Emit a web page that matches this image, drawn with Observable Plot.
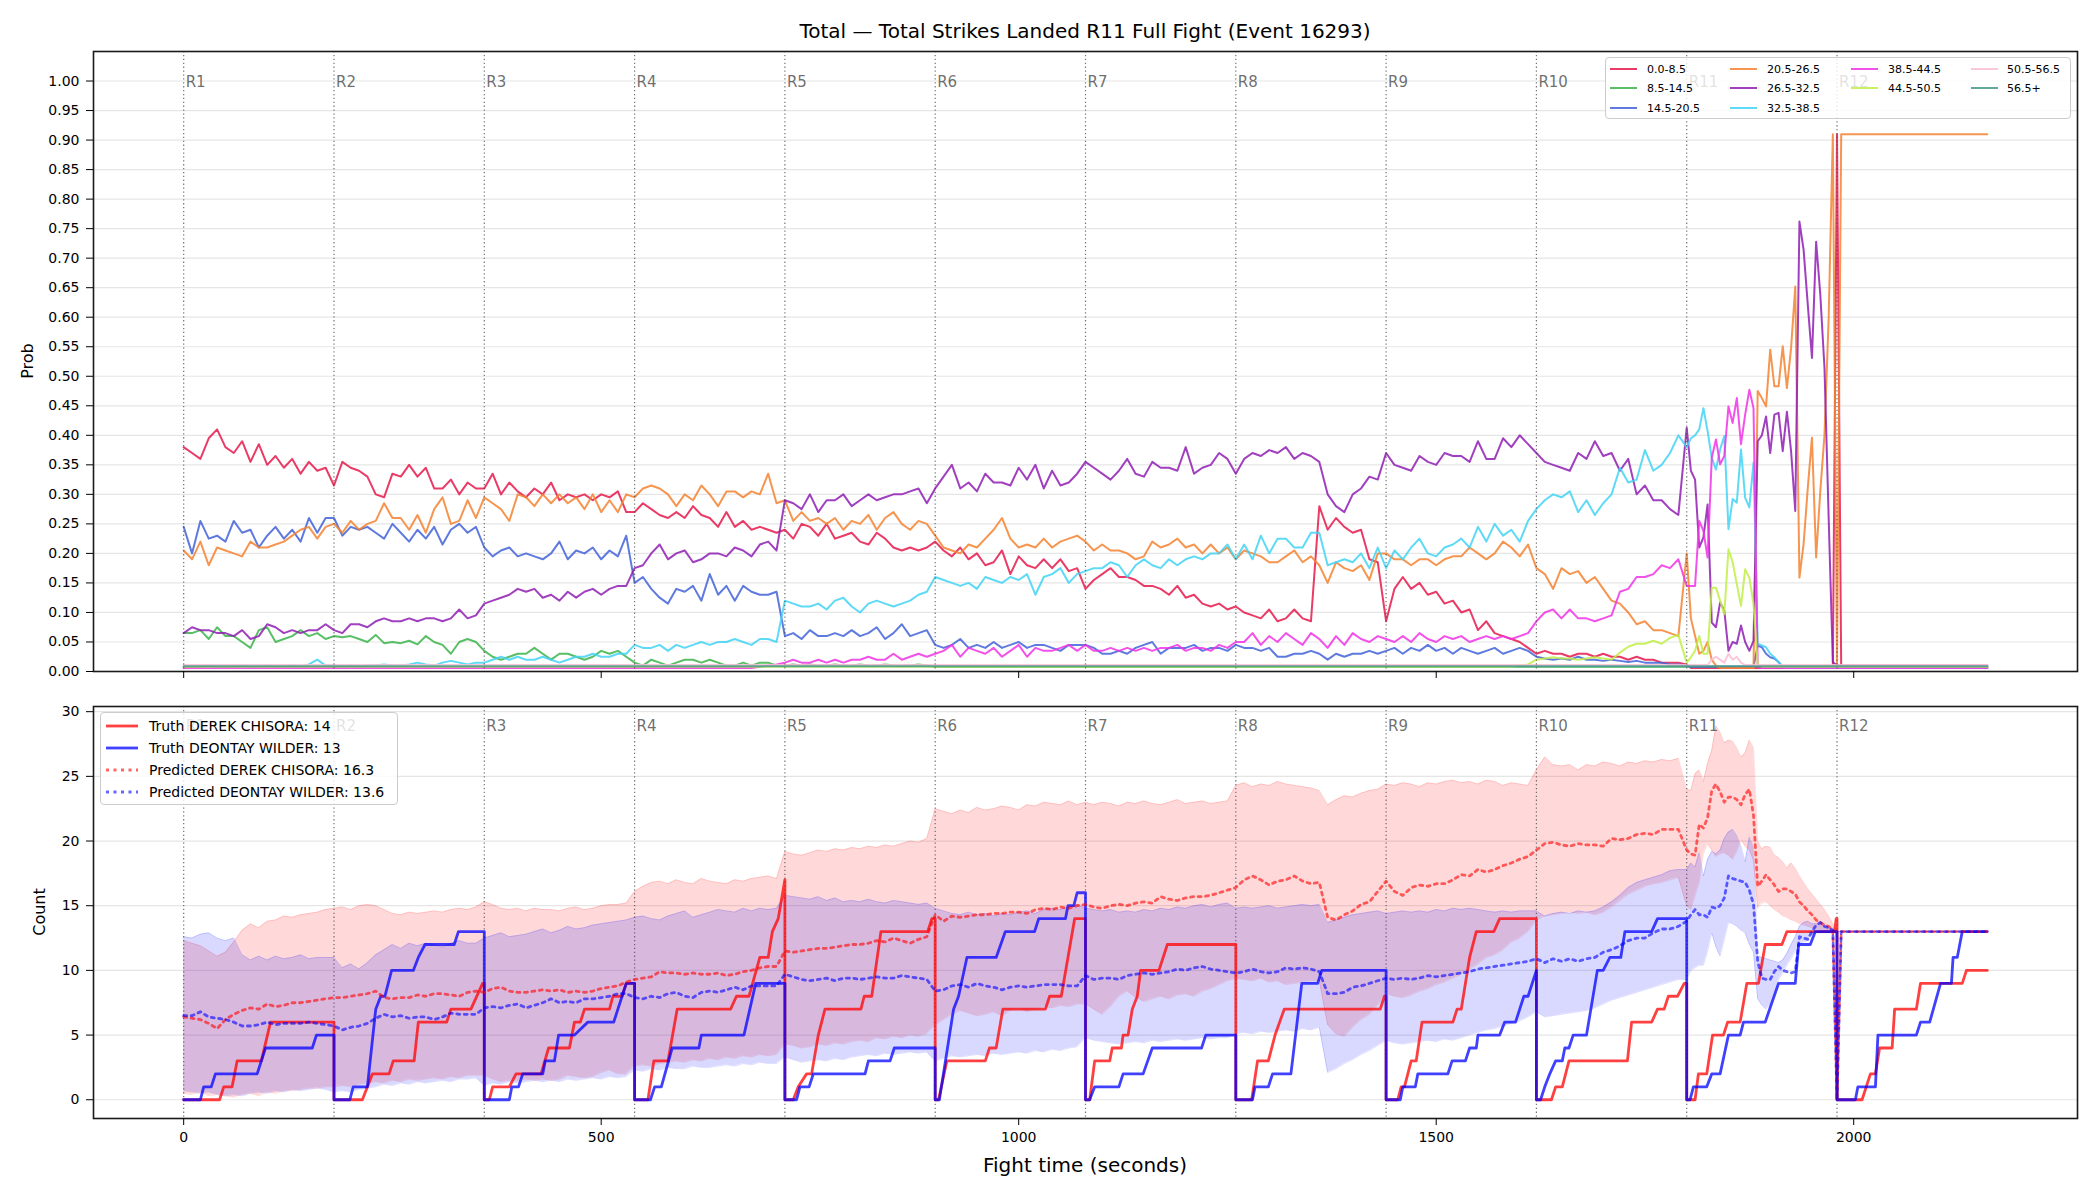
<!DOCTYPE html>
<html><head><meta charset="utf-8">
<script src="https://cdn.jsdelivr.net/npm/d3@7"></script>
<script src="https://cdn.jsdelivr.net/npm/@observablehq/plot@0.6"></script>
<style>
body{margin:0;background:#fff;font-family:"DejaVu Sans",sans-serif;}
#root{position:relative;width:2100px;height:1200px;overflow:hidden;background:#fff;}
#root svg.plotsvg{position:absolute;left:0;}
.lbl{position:absolute;white-space:nowrap;color:#000;font-family:"DejaVu Sans",sans-serif;}
.legend{position:absolute;background:rgba(255,255,255,0.8);border:1px solid #cccccc;border-radius:4px;box-sizing:border-box;}
.legend .txt{position:absolute;white-space:nowrap;transform:translateY(-50%);color:#000;line-height:1;}
.legend svg{position:absolute;overflow:visible;}
</style>
</head><body><div id="root"></div>
<script>
// ---------------- DATA ----------------
const title = "Total \u2014 Total Strikes Landed R11 Full Fight (Event 16293)";
const roundStarts = [0,180,360,540,720,900,1080,1260,1440,1620,1800,1980];
const roundLabels = ["R1","R2","R3","R4","R5","R6","R7","R8","R9","R10","R11","R12"];
const timeTicks = [0,500,1000,1500,2000];
const probTicks = [0,0.05,0.10,0.15,0.20,0.25,0.30,0.35,0.40,0.45,0.50,0.55,0.60,0.65,0.70,0.75,0.80,0.85,0.90,0.95,1.00];
const countTicks = [0,5,10,15,20,25,30];
const binLabels = ["0.0-8.5","8.5-14.5","14.5-20.5","20.5-26.5","26.5-32.5","32.5-38.5","38.5-44.5","44.5-50.5","50.5-56.5","56.5+"];
const binColors = ["#e6194b","#3cb44b","#4363d8","#f58231","#911eb4","#42d4f4","#f032e6","#bfef45","#fabed4","#469990"];
const fighters = ["DEREK CHISORA","DEONTAY WILDER"];
const truthFinal = [14, 13];
const predFinal = [16.3, 13.6];

// sample times: 10 s in rounds 1-10, 5 s in round 11 (and start of 12), 10 s after
const times = [];
for (let t = 0; t < 1800; t += 10) times.push(t);
for (let t = 1800; t <= 1990; t += 5) times.push(t);
for (let t = 2000; t <= 2160; t += 10) times.push(t);

// probabilities per bin (R1..R10: 18 values each, R11: 36, R12: 20)
const bin0 = [
.38,.37,.36,.395,.41,.38,.37,.39,.355,.385,.35,.365,.345,.36,.335,.355,.34,.345,
.315,.355,.345,.34,.33,.30,.295,.335,.33,.35,.33,.345,.31,.31,.325,.30,.32,.31,
.31,.335,.30,.32,.305,.295,.31,.30,.32,.29,.30,.295,.30,.29,.30,.295,.305,.27,
.27,.285,.275,.265,.26,.27,.26,.28,.265,.26,.245,.27,.245,.255,.24,.245,.24,.235,
.24,.225,.25,.245,.23,.25,.225,.23,.235,.22,.215,.235,.225,.21,.205,.21,.205,.21,
.22,.205,.195,.21,.19,.2,.18,.185,.205,.165,.195,.18,.175,.19,.175,.19,.17,.175,
.14,.155,.165,.175,.16,.16,.155,.145,.145,.14,.13,.145,.125,.13,.115,.11,.115,.105,
.11,.10,.095,.09,.105,.085,.09,.105,.09,.085,.28,.24,.26,.245,.235,.24,.19,.185,
.085,.14,.16,.14,.15,.13,.135,.115,.12,.10,.105,.07,.085,.065,.06,.055,.05,.04,
.03,.035,.03,.03,.025,.03,.03,.025,.03,.025,.025,.02,.025,.02,.02,.015,.015,.015,
.012,.006,.006,.006,.006,.006,  .006,.006,.006,.006,.006,.006,  .006,.006,.006,.006,.006,.006,
.006,.006,.006,.006,.006,.006,  .006,.006,.006,.006,.006,.006,  .006,.006,.006,.006,.006,.006,
.91,.006,.006,.006,.006,.006,  .006,.006,.006,.006,.006,.006,  .006,.006,.006,.006,.006,.006,  .006,.006
];
const bin1 = [
.065,.065,.07,.055,.075,.06,.06,.05,.04,.07,.075,.05,.055,.06,.07,.06,.065,.055,
.06,.058,.06,.055,.05,.062,.048,.05,.048,.052,.046,.06,.05,.045,.03,.05,.055,.05,
.035,.025,.02,.025,.03,.03,.04,.03,.02,.03,.03,.025,.02,.025,.035,.03,.035,.025,
.015,.01,.02,.015,.01,.015,.02,.02,.015,.02,.015,.01,.01,.015,.01,.015,.015,.01,
.01,.012,.01,.012,.01,.01,.012,.01,.01,.012,.01,.01,.012,.01,.01,.01,.012,.01,
.008,.008,.008,.008,.008,.008,  .008,.008,.008,.008,.008,.008,  .008,.008,.008,.008,.008,.008,
.008,.008,.008,.008,.008,.008,  .008,.008,.008,.008,.008,.008,  .008,.008,.008,.008,.008,.008,
.008,.008,.008,.008,.008,.008,  .008,.008,.008,.008,.008,.008,  .008,.008,.008,.008,.008,.008,
.008,.008,.008,.008,.008,.008,  .008,.008,.008,.008,.008,.008,  .008,.008,.008,.008,.008,.008,
.008,.008,.008,.008,.008,.008,  .008,.008,.008,.008,.008,.008,  .008,.008,.008,.008,.008,.008,
.008,.008,.008,.008,.008,.008,  .008,.008,.008,.008,.008,.008,  .008,.008,.008,.008,.008,.008,
.008,.008,.008,.008,.008,.008,  .008,.008,.008,.008,.008,.008,  .008,.008,.008,.008,.008,.008,
.008,.008,.008,.008,.008,.008,  .008,.008,.008,.008,.008,.008,  .008,.008,.008,.008,.008,.008,  .008,.008
];
const bin2 = [
.245,.2,.255,.225,.23,.22,.255,.235,.24,.21,.23,.245,.225,.24,.22,.26,.235,.26,
.26,.23,.245,.24,.245,.235,.225,.25,.235,.22,.24,.225,.245,.215,.24,.25,.235,.245,
.21,.195,.205,.21,.195,.2,.195,.19,.2,.22,.19,.205,.2,.21,.19,.205,.195,.23,
.15,.16,.14,.125,.115,.14,.135,.145,.12,.165,.13,.145,.12,.145,.135,.13,.13,.135,
.06,.065,.055,.07,.06,.06,.065,.06,.07,.06,.065,.075,.055,.065,.08,.06,.065,.07,
.045,.04,.045,.055,.04,.045,.04,.05,.04,.045,.05,.04,.045,.045,.04,.035,.045,.045,
.045,.04,.03,.03,.035,.03,.04,.045,.05,.03,.04,.04,.04,.045,.035,.04,.04,.035,
.045,.04,.04,.035,.04,.025,.025,.03,.03,.035,.03,.02,.03,.025,.03,.03,.035,.03,
.035,.04,.03,.04,.035,.045,.035,.04,.03,.04,.035,.03,.035,.04,.03,.035,.04,.035,
.025,.022,.02,.022,.02,.025,.02,.02,.018,.02,.018,.016,.018,.015,.015,.015,.012,.012,
.01,.008,.008,.008,.008,.008,  .008,.008,.008,.008,.008,.008,  .008,.008,.008,.008,.008,.044,
.041,.03,.024,.022,.016,.008,  .008,.008,.008,.008,.008,.008,  .008,.008,.008,.008,.008,.008,
.008,.008,.008,.008,.008,.008,  .008,.008,.008,.008,.008,.008,  .008,.008,.008,.008,.008,.008,  .008,.008
];
const bin3 = [
.205,.19,.22,.18,.21,.205,.2,.195,.22,.21,.21,.215,.22,.23,.24,.245,.225,.245,
.25,.235,.255,.24,.25,.255,.285,.26,.26,.24,.265,.235,.275,.295,.25,.255,.29,.26,
.295,.285,.275,.255,.3,.295,.28,.3,.285,.3,.285,.295,.275,.3,.27,.29,.27,.3,
.295,.31,.315,.31,.3,.28,.3,.29,.315,.3,.28,.305,.305,.295,.305,.3,.335,.285,
.29,.255,.27,.255,.26,.25,.26,.24,.255,.25,.265,.24,.26,.27,.25,.24,.255,.25,
.23,.21,.205,.2,.215,.21,.225,.24,.26,.225,.21,.215,.21,.225,.21,.22,.225,.23,
.22,.205,.215,.205,.205,.2,.19,.195,.22,.21,.215,.225,.21,.215,.2,.215,.2,.21,
.19,.205,.2,.195,.185,.185,.195,.205,.185,.195,.18,.15,.185,.175,.17,.18,.155,.2,
.2,.19,.19,.18,.19,.19,.18,.19,.195,.195,.21,.2,.19,.2,.22,.21,.195,.215,
.175,.165,.14,.175,.165,.17,.15,.16,.14,.12,.115,.1,.08,.085,.07,.07,.065,.06,
.20,.09,.06,.03,.035,.05,  .02,.01,.006,.006,.006,.006,  .006,.006,.006,.006,.006,.475,
.463,.449,.545,.483,.483,.551,  .48,.548,.652,.159,.216,.311,  .396,.193,.306,.401,.599,.91,
.01,.91,.91,.91,.91,.91,  .91,.91,.91,.91,.91,.91,  .91,.91,.91,.91,.91,.91,  .91,.91
];
const bin4 = [
.065,.075,.07,.07,.065,.065,.06,.07,.055,.06,.08,.075,.065,.07,.065,.07,.07,.08,
.07,.065,.08,.08,.075,.085,.09,.085,.085,.09,.085,.09,.09,.085,.09,.105,.09,.095,
.115,.12,.125,.13,.14,.135,.14,.125,.13,.12,.135,.125,.135,.14,.13,.14,.145,.145,
.175,.18,.2,.215,.19,.2,.205,.185,.19,.2,.2,.195,.21,.205,.195,.215,.22,.205,
.29,.285,.275,.3,.27,.29,.29,.3,.28,.29,.3,.29,.295,.3,.3,.305,.31,.285,
.31,.33,.35,.31,.32,.305,.335,.32,.32,.315,.345,.325,.35,.31,.34,.315,.32,.335,
.355,.345,.335,.325,.34,.36,.335,.33,.355,.345,.345,.34,.38,.335,.345,.35,.37,.36,
.335,.36,.37,.365,.375,.37,.38,.36,.37,.365,.355,.3,.28,.27,.3,.31,.33,.325,
.37,.35,.345,.34,.365,.355,.35,.37,.365,.365,.355,.39,.36,.36,.395,.38,.4,.385,
.37,.355,.35,.345,.34,.37,.36,.39,.365,.37,.34,.36,.3,.315,.29,.29,.275,.265,
.413,.34,.325,.21,.227,.283,  .083,.075,.117,.103,.035,.05,  .047,.078,.05,.035,.052,.39,
.40,.432,.37,.435,.438,.373,  .44,.373,.272,.762,.714,.621,  .531,.728,.638,.514,.26,.016,
.01,.01,.01,.01,.01,.01,  .01,.01,.01,.01,.01,.01,  .01,.01,.01,.01,.01,.01,  .01,.01
];
const bin5 = [
.008,.008,.008,.01,.008,.008,.008,.01,.008,.008,.01,.008,.008,.01,.008,.012,.02,.01,
.01,.008,.01,.008,.01,.01,.012,.01,.01,.012,.015,.012,.01,.015,.018,.015,.012,.015,
.015,.02,.025,.02,.025,.02,.02,.025,.02,.015,.02,.025,.025,.03,.025,.025,.03,.03,
.045,.04,.04,.045,.035,.045,.04,.045,.05,.045,.05,.05,.055,.05,.045,.055,.055,.05,
.12,.115,.11,.11,.115,.105,.12,.125,.11,.1,.115,.12,.115,.11,.115,.12,.13,.135,
.16,.155,.15,.145,.15,.14,.16,.155,.15,.16,.155,.165,.13,.16,.165,.175,.15,.165,
.17,.175,.175,.185,.18,.16,.18,.19,.18,.175,.19,.18,.19,.195,.19,.2,.2,.215,
.19,.215,.19,.23,.2,.225,.225,.21,.21,.235,.235,.18,.185,.19,.185,.2,.175,.21,
.175,.205,.19,.21,.225,.2,.195,.21,.215,.225,.21,.245,.22,.25,.23,.24,.22,.255,
.275,.29,.3,.295,.305,.27,.29,.265,.285,.3,.345,.32,.325,.375,.34,.35,.37,.4,
.38,.395,.40,.41,.446,.407,  .362,.342,.376,.399,.241,.292,  .286,.376,.294,.278,.354,.047,
.044,.041,.03,.024,.016,.008,  .006,.006,.006,.006,.006,.006,  .006,.006,.006,.006,.006,.006,
.006,.006,.006,.006,.006,.006,  .006,.006,.006,.006,.006,.006,  .006,.006,.006,.006,.006,.006,  .006,.006
];
const bin6 = [
.006,.006,.006,.006,.006,.006,  .006,.006,.006,.006,.006,.006,  .006,.006,.006,.006,.006,.006,
.006,.006,.006,.006,.006,.006,  .006,.006,.006,.006,.006,.006,  .006,.006,.006,.006,.006,.006,
.006,.006,.006,.006,.006,.006,  .006,.006,.006,.006,.006,.006,  .006,.006,.006,.006,.006,.006,
.006,.006,.006,.006,.006,.006,  .006,.006,.006,.006,.006,.006,  .006,.006,.006,.008,.01,.012,
.015,.02,.015,.015,.02,.015,.02,.015,.02,.02,.025,.02,.02,.03,.02,.025,.03,.025,
.03,.035,.045,.025,.04,.035,.03,.04,.025,.035,.045,.025,.04,.035,.035,.04,.045,.035,
.045,.035,.035,.04,.035,.04,.035,.04,.035,.04,.04,.045,.035,.04,.04,.035,.045,.04,
.05,.05,.065,.045,.06,.05,.065,.055,.045,.065,.055,.04,.06,.045,.065,.055,.05,.06,
.055,.05,.06,.05,.065,.055,.05,.06,.055,.06,.05,.055,.06,.055,.06,.055,.06,.065,
.085,.1,.105,.09,.105,.09,.09,.085,.09,.095,.135,.14,.16,.16,.165,.18,.175,.19,
.145,.145,.145,.255,.238,.193,  .362,.393,.351,.365,.449,.421,  .463,.385,.435,.477,.446,.008,
.006,.006,.006,.006,.006,.006,  .006,.006,.006,.006,.006,.006,  .006,.006,.006,.006,.006,.006,
.006,.006,.006,.006,.006,.006,  .006,.006,.006,.006,.006,.006,  .006,.006,.006,.006,.006,.006,  .006,.006
];
const bin7 = [
.008,.008,.008,.008,.008,.008,  .008,.008,.008,.008,.008,.008,  .008,.008,.008,.008,.008,.008,
.008,.008,.008,.008,.008,.008,  .008,.008,.008,.008,.008,.008,  .008,.008,.008,.008,.008,.008,
.008,.008,.008,.008,.008,.008,  .008,.008,.008,.008,.008,.008,  .008,.008,.008,.008,.008,.008,
.008,.008,.008,.008,.008,.008,  .008,.008,.008,.008,.008,.008,  .008,.008,.008,.008,.008,.008,
.008,.008,.008,.008,.008,.008,  .008,.008,.008,.008,.008,.008,  .008,.008,.008,.008,.008,.008,
.008,.008,.008,.008,.008,.008,  .008,.008,.008,.008,.008,.008,  .008,.008,.008,.008,.008,.008,
.008,.008,.008,.008,.008,.008,  .008,.008,.008,.008,.008,.008,  .008,.008,.008,.008,.008,.008,
.008,.008,.008,.008,.008,.008,  .008,.008,.008,.008,.008,.008,  .008,.008,.008,.008,.008,.008,
.008,.008,.008,.008,.008,.008,  .008,.008,.008,.008,.008,.008,  .008,.008,.008,.008,.01,.012,
.02,.022,.024,.022,.022,.02,.022,.024,.022,.02,.032,.042,.047,.047,.052,.047,.057,.062,
.015,.024,.035,.06,.03,.03,  .142,.142,.12,.097,.207,.185,  .148,.111,.173,.159,.114,.013,
.008,.008,.008,.008,.008,.008,  .008,.008,.008,.008,.008,.008,  .008,.008,.008,.008,.008,.008,
.008,.008,.008,.008,.008,.008,  .008,.008,.008,.008,.008,.008,  .008,.008,.008,.008,.008,.008,  .008,.008
];
const bin8 = [
.011,.011,.011,.011,.011,.011,  .011,.011,.011,.011,.011,.011,  .011,.011,.011,.011,.011,.011,
.011,.011,.011,.011,.011,.011,  .011,.011,.011,.011,.011,.011,  .011,.011,.011,.011,.011,.011,
.011,.011,.011,.011,.011,.011,  .011,.011,.011,.011,.011,.011,  .011,.011,.011,.011,.011,.011,
.011,.011,.011,.011,.011,.011,  .011,.011,.011,.011,.011,.011,  .011,.011,.011,.011,.011,.011,
.011,.011,.011,.011,.011,.011,  .011,.011,.011,.011,.011,.011,  .011,.011,.011,.011,.011,.011,
.011,.011,.011,.011,.011,.011,  .011,.011,.011,.011,.011,.011,  .011,.011,.011,.011,.011,.011,
.011,.011,.011,.011,.011,.011,  .011,.011,.011,.011,.011,.011,  .011,.011,.011,.011,.011,.011,
.011,.011,.011,.011,.011,.011,  .011,.011,.011,.011,.011,.011,  .011,.011,.011,.011,.011,.011,
.011,.011,.011,.011,.011,.011,  .011,.011,.011,.011,.011,.011,  .011,.011,.011,.011,.011,.011,
.011,.011,.011,.011,.011,.011,  .011,.011,.011,.011,.011,.011,  .011,.011,.011,.011,.011,.011,
.011,.011,.011,.011,.011,.011,  .02,.025,.02,.015,.03,.02,  .025,.015,.011,.011,.011,.011,
.011,.011,.011,.011,.011,.011,  .011,.011,.011,.011,.011,.011,  .011,.011,.011,.011,.011,.011,
.011,.011,.011,.011,.011,.011,  .011,.011,.011,.011,.011,.011,  .011,.011,.011,.011,.011,.011,  .011,.011
];
const bin9 = [
.009,.009,.009,.009,.009,.009,  .009,.009,.009,.009,.009,.009,  .009,.009,.009,.009,.009,.009,
.009,.009,.009,.009,.009,.009,  .009,.009,.009,.009,.009,.009,  .009,.009,.009,.009,.009,.009,
.009,.009,.009,.009,.009,.009,  .009,.009,.009,.009,.009,.009,  .009,.009,.009,.009,.009,.009,
.009,.009,.009,.009,.009,.009,  .009,.009,.009,.009,.009,.009,  .009,.009,.009,.009,.009,.009,
.009,.009,.009,.009,.009,.009,  .009,.009,.009,.009,.009,.009,  .009,.009,.009,.009,.009,.009,
.009,.009,.009,.009,.009,.009,  .009,.009,.009,.009,.009,.009,  .009,.009,.009,.009,.009,.009,
.009,.009,.009,.009,.009,.009,  .009,.009,.009,.009,.009,.009,  .009,.009,.009,.009,.009,.009,
.009,.009,.009,.009,.009,.009,  .009,.009,.009,.009,.009,.009,  .009,.009,.009,.009,.009,.009,
.009,.009,.009,.009,.009,.009,  .009,.009,.009,.009,.009,.009,  .009,.009,.009,.009,.009,.009,
.009,.009,.009,.009,.009,.009,  .009,.009,.009,.009,.009,.009,  .009,.009,.009,.009,.009,.009,
.009,.009,.009,.009,.009,.009,  .009,.009,.009,.009,.009,.009,  .009,.009,.009,.009,.009,.009,
.009,.009,.009,.009,.009,.009,  .009,.009,.009,.009,.009,.009,  .009,.009,.009,.009,.009,.009,
.009,.009,.009,.009,.009,.009,  .009,.009,.009,.009,.009,.009,  .009,.009,.009,.009,.009,.009,  .009,.009
];

// predicted counts and bands (same sample times)
const predChisora = [
6.4,6.3,6.2,5.9,5.5,6.2,6.6,6.9,7.1,7.0,7.4,7.2,7.3,7.5,7.5,7.6,7.7,7.8,
7.9,7.9,8.0,8.1,8.2,8.4,7.9,7.8,7.9,7.9,8.1,8.0,8.2,8.2,8.1,8.0,8.3,8.4,
8.3,8.6,8.7,8.4,8.3,8.3,8.4,8.5,8.4,8.5,8.3,8.4,8.3,8.4,8.6,8.7,8.8,9.1,
9.3,9.4,9.5,9.9,9.8,9.8,9.7,9.8,9.7,9.7,9.8,9.6,9.7,9.9,10.0,10.2,10.3,10.3,
11.5,11.4,11.5,11.6,11.7,11.7,11.8,11.9,12.0,12.0,12.1,12.3,12.2,12.5,12.3,12.1,12.4,12.6,
14.3,13.8,14.2,14.1,14.2,14.3,14.3,14.4,14.4,14.5,14.5,14.4,14.7,14.8,14.7,14.9,14.8,15.0,
15.1,14.9,14.8,15.0,15.1,15.0,15.2,15.3,15.2,15.7,15.5,15.4,15.6,15.7,15.7,15.8,16.0,16.2,
16.4,17.0,17.3,17.0,16.6,16.9,17.0,17.3,16.9,16.7,16.8,14.1,13.9,14.3,14.6,15.1,15.3,16.1,
16.9,16.1,15.8,16.4,16.6,16.5,16.7,16.7,17.0,17.4,17.3,17.8,17.6,17.8,18.1,18.3,18.6,18.8,
19.3,19.8,19.9,19.7,19.6,19.8,19.7,19.7,19.6,20.2,20.1,20.2,20.5,20.6,20.5,20.9,20.9,20.9,
19.3,19.0,18.9,21.3,21.0,21.8,  23.9,24.4,23.8,23.0,23.4,23.4,  23.2,22.8,23.6,24.0,22.0,16.5,
16.9,17.4,17.0,16.6,16.1,16.3,  16.3,16.1,15.9,15.3,15.0,14.6,  14.3,13.9,13.7,13.5,13.4,13.1,
0,13,13,13,13,13,  13,13,13,13,13,13,  13,13,13,13,13,13,  13,13
];
const predWilder = [
6.5,6.5,6.8,6.4,6.3,6.2,6.0,5.7,5.7,5.8,6.0,5.8,5.9,5.9,5.9,6.0,5.9,5.8,
5.7,5.4,5.6,5.7,5.9,6.3,6.6,6.4,6.5,6.3,6.4,6.4,6.2,6.4,6.7,6.6,6.6,6.6,
7.1,7.2,7.1,7.3,7.4,7.1,7.3,7.5,7.8,7.5,7.6,7.5,7.8,7.8,7.9,8.0,8.2,8.2,
7.9,7.8,8.0,7.9,8.2,8.3,8.0,7.9,8.3,8.4,8.3,8.5,8.7,8.5,8.8,8.8,8.8,8.8,
9.7,9.5,9.3,9.2,9.3,9.4,9.2,9.4,9.4,9.3,9.4,9.5,9.4,9.4,9.6,9.5,9.4,9.3,
8.4,8.5,8.8,8.9,8.7,9.0,8.8,8.7,8.5,8.7,8.8,8.7,8.8,8.9,8.9,8.9,8.8,8.8,
9.6,9.3,9.4,9.4,9.3,9.6,9.7,9.8,9.7,9.8,9.9,10.1,10.0,10.2,10.3,10.1,10.0,9.9,
9.8,9.9,10.1,9.9,9.8,9.9,10.2,10.1,10.2,10.1,9.9,8.2,8.2,8.3,8.7,8.8,9.0,9.2,
9.4,9.3,9.4,9.3,9.4,9.6,9.5,9.6,9.7,9.8,9.9,10.1,10.2,10.3,10.4,10.5,10.6,10.7,
10.9,10.6,10.9,10.7,10.9,10.7,10.9,11.0,11.4,11.6,11.9,12.3,12.5,12.5,12.9,13.2,13.2,13.4,
13.8,14.3,14.7,14.3,14.3,14.1,  14.9,14.8,15.0,15.6,17.3,17.1,  17.0,16.9,16.8,16.2,15.1,10.7,
9.4,9.3,9.3,9.9,10.3,10.0,  9.9,9.8,9.9,12.6,12.5,12.4,  13.0,13.5,13.7,13.4,13.3,13.1,
0,13,13,13,13,13,  13,13,13,13,13,13,  13,13,13,13,13,13,  13,13
];
const chisoraHigh = [
12.3,12.1,11.9,11.5,11.1,11.4,12.2,13.1,13.6,13.3,13.8,13.9,14.2,14.1,14.3,14.4,14.5,14.7,
14.8,14.9,14.7,15.0,15.1,15.0,14.7,14.4,14.3,14.5,14.4,14.5,14.6,14.5,14.7,14.8,14.7,14.9,
15.3,15.1,14.8,14.7,14.8,14.6,14.8,14.7,14.7,14.6,14.8,14.9,14.7,14.8,15.0,15.1,15.1,15.2,
16.1,16.5,16.8,16.9,16.7,17.0,16.8,16.7,17.1,16.9,16.8,16.7,17.0,16.9,17.1,17.2,17.3,17.1,
19.2,19.0,18.9,19.1,19.3,19.2,19.4,19.3,19.5,19.4,19.6,19.5,19.7,19.6,19.8,20.0,19.9,20.2,
22.5,22.3,22.1,22.4,22.2,22.6,22.4,22.5,22.7,22.6,22.4,22.8,22.7,23.0,22.9,22.8,23.1,22.8,
23.0,22.8,23.0,22.9,22.7,23.0,22.9,23.1,22.9,22.8,23.0,23.2,22.9,23.0,23.1,22.9,23.0,23.1,
24.3,24.5,24.2,24.4,24.3,24.6,24.4,24.3,24.2,24.1,23.9,22.8,23.2,23.5,23.4,23.7,23.9,24.0,
24.4,24.3,24.5,24.4,24.2,24.5,24.4,24.6,24.7,24.5,24.6,24.4,24.7,24.6,24.3,24.5,24.4,24.3,
25.5,26.5,25.9,25.8,25.9,25.5,25.9,25.8,26.1,26.0,25.8,26.1,26.0,26.2,26.1,26.3,26.2,26.4,
24.0,23.9,25.2,25.5,24.6,26.0,  27.0,28.9,28.4,27.6,27.8,27.7,  27.2,26.5,26.8,27.8,27.2,20.0,
19.4,19.6,19.5,18.9,18.7,18.4,  17.9,18.3,17.9,17.3,16.8,16.3,  15.9,15.5,15.1,14.7,14.2,13.6,
13,13,13,13,13,13,  13,13,13,13,13,13,  13,13,13,13,13,13,  13,13
];
const chisoraLow = [
0.5,0.4,0.6,0.3,0.4,0.3,0.2,0.4,0.5,0.3,0.6,0.5,0.7,0.7,0.8,0.9,0.9,1.0,
1.0,1.1,1.0,1.2,1.3,1.4,1.3,1.5,1.4,1.6,1.5,1.6,1.7,1.6,1.8,1.7,1.9,1.9,
1.9,1.6,1.4,1.5,1.5,1.6,1.5,1.6,1.5,1.6,1.9,1.8,1.7,1.8,2.1,2.3,2.0,2.0,
2.6,2.7,2.6,2.8,2.9,3.0,2.9,3.1,3.0,3.2,3.1,3.3,3.2,3.4,3.3,3.5,3.4,3.5,
4.3,4.2,4.0,4.1,4.3,4.2,4.4,4.3,4.5,4.6,4.5,4.8,4.7,4.9,4.8,5.0,4.9,5.1,
5.8,6.2,6.6,6.9,6.7,6.5,6.6,6.8,6.5,6.9,7.1,6.8,7.0,7.2,7.1,7.3,7.2,7.4,
7.4,7.0,6.6,7.2,8.0,8.4,7.9,7.6,7.8,8.0,7.8,8.1,8.2,8.0,8.4,8.6,8.9,9.2,
9.4,9.3,9.2,9.4,9.1,9.2,8.9,9.0,9.1,9.2,9.2,5.8,5.1,4.9,5.6,6.2,6.6,7.3,
8.2,8.0,7.9,8.1,8.4,8.6,8.9,9.1,9.4,9.7,10.1,10.5,11.0,11.2,11.6,12.2,12.5,13.0,
13.9,14.2,14.3,14.4,14.5,14.4,14.5,14.3,14.5,14.9,15.4,15.9,16.2,16.5,16.7,16.8,17.0,17.2,
15.0,14.7,15.8,16.8,19.0,19.8,  19.3,18.8,19.0,19.1,18.9,18.6,  19.2,20.1,19.6,19.3,18.5,14.8,
15.2,15.3,15.0,14.7,14.5,14.2,  14.1,13.9,13.8,13.6,13.5,13.4,  13.3,13.2,13.1,13.0,13.0,12.9,
13,13,13,13,13,13,  13,13,13,13,13,13,  13,13,13,13,13,13,  13,13
];
const wilderHigh = [
12.6,12.5,12.8,12.9,12.5,12.3,12.5,11.2,10.8,11.1,10.8,11.1,10.9,11.0,11.2,10.9,11.0,11.0,
11.0,10.2,10.5,10.1,10.6,11.2,11.6,12.0,11.7,12.1,11.9,12.1,12.0,11.8,12.1,12.3,12.1,12.1,
12.5,12.7,12.9,12.6,12.7,12.8,13.0,13.2,12.9,13.1,13.4,13.2,13.3,13.5,13.6,13.7,13.8,13.9,
14.1,14.2,14.0,13.9,14.2,14.4,14.6,14.1,14.3,14.5,14.7,14.6,14.5,14.8,14.6,14.8,14.7,14.8,
15.8,15.7,15.6,15.5,15.7,15.4,15.6,15.3,15.4,15.3,15.5,15.3,15.2,15.4,15.3,15.2,15.1,15.2,
14.8,14.6,14.4,14.3,14.5,14.3,14.4,14.2,14.4,14.3,14.5,14.6,14.4,14.7,14.8,14.7,14.9,15.1,
14.8,14.7,14.6,14.7,14.5,14.6,14.5,14.7,14.6,14.8,14.7,14.9,14.8,15.0,15.1,14.9,15.1,15.2,
14.8,14.9,14.8,14.9,15.0,14.8,14.9,15.0,15.1,15.0,15.1,13.7,13.9,14.1,14.3,14.4,14.5,14.6,
14.4,14.5,14.6,14.5,14.6,14.5,14.7,14.6,14.8,14.7,14.8,14.7,14.6,14.5,14.6,14.5,14.6,14.6,
14.6,14.2,14.4,14.5,14.4,14.6,14.5,14.6,14.9,15.3,15.8,16.4,16.8,17.0,17.2,17.4,17.7,17.8,
17.8,18.3,18.0,19.1,17.3,18.6,  19.2,19.0,19.3,20.2,20.7,20.9,  20.4,19.6,18.4,20.3,19.5,11.1,
11.0,10.9,10.8,10.7,10.6,10.8,  11.3,12.0,12.6,13.4,13.7,13.8,  13.6,13.6,13.5,13.4,13.2,13.1,
13,13,13,13,13,13,  13,13,13,13,13,13,  13,13,13,13,13,13,  13,13
];
const wilderLow = [
0.7,0.6,0.5,0.6,0.4,0.3,0.4,0.3,0.5,0.6,0.5,0.7,0.6,0.8,0.7,0.8,0.9,0.8,
0.6,0.7,0.6,0.8,0.9,1.0,1.2,1.1,1.3,1.2,1.4,1.3,1.4,1.5,1.4,1.6,1.6,1.7,
1.1,1.3,1.2,1.4,1.3,1.4,1.5,1.4,1.5,1.4,1.6,1.5,1.6,1.7,1.6,1.8,1.7,1.8,
2.3,2.2,2.4,2.3,2.5,2.4,2.4,2.6,2.5,2.5,2.6,2.7,2.6,2.8,2.7,2.9,2.8,2.8,
3.3,3.1,2.9,3.0,3.1,3.0,3.2,3.1,3.3,3.4,3.5,3.4,3.6,3.5,3.6,3.7,3.6,3.7,
3.0,3.2,3.4,3.3,3.4,3.5,3.4,3.6,3.5,3.6,3.7,3.6,3.8,3.7,3.9,3.8,4.0,4.1,
4.8,4.6,4.5,4.4,4.3,4.4,4.5,4.4,4.6,4.5,4.6,4.7,4.6,4.7,4.8,4.7,4.8,4.8,
5.1,5.2,5.1,5.3,5.2,5.3,5.4,5.3,5.5,5.4,5.6,2.1,2.4,2.8,3.1,3.5,3.8,4.2,
4.6,4.4,4.3,4.4,4.5,4.6,4.5,4.7,4.6,4.8,5.0,5.2,5.4,5.5,5.7,5.9,6.1,6.4,
6.8,6.4,6.5,6.6,6.7,6.8,6.9,7.1,7.4,7.7,7.9,8.1,8.3,8.5,8.7,8.9,9.1,9.3,
9.3,10.0,10.2,10.4,10.4,11.5,  12.9,11.8,11.1,12.4,13.7,13.6,  13.4,13.1,12.9,12.0,11.4,7.8,
7.3,7.0,7.3,8.2,9.3,9.8,  10.4,10.9,11.5,12.1,12.2,12.3,  12.8,12.9,12.9,12.9,12.9,12.9,
13,13,13,13,13,13,  13,13,13,13,13,13,  13,13,13,13,13,13,  13,13
];

// cumulative strikes landed per round: [seconds, count] break points
const truthChisora = [
[0,0],[43,0],[48,1],[58,1],[64,3],[93,3],[104,6],[180,6],
[180,0],[214,0],[226,2],[246,2],[251,3],[276,3],[281,6],[315,6],[320,7],[344,7],[358,9],[360,9],
[360,0],[366,0],[370,1],[390,1],[398,2],[428,2],[437,4],[462,4],[468,6],[475,6],[480,7],[510,7],[514,8],[525,8],[530,9],[540,9],
[540,0],[556,0],[563,3],[580,3],[591,7],[655,7],[662,8],[677,8],[690,11],[700,11],[705,13],[712,14],[720,17],
[720,0],[730,0],[736,1],[746,2],[752,2],[760,5],[768,7],[811,7],[815,8],[824,8],[835,13],[891,13],[896,14],[900,14],
[900,0],[904,0],[914,3],[960,3],[965,4],[973,4],[981,7],[1032,7],[1037,8],[1051,8],[1059,11],[1067,14],[1080,14],
[1080,0],[1085,0],[1091,3],[1109,3],[1112,4],[1123,4],[1125,5],[1131,5],[1136,7],[1142,8],[1146,10],[1168,10],[1178,12],[1260,12],
[1260,0],[1279,0],[1286,3],[1299,3],[1307,5],[1318,7],[1433,7],[1438,8],[1440,8],
[1440,0],[1454,0],[1458,1],[1462,1],[1470,3],[1476,3],[1483,6],[1520,6],[1525,7],[1530,7],[1540,11],[1548,13],[1569,13],[1576,14],[1620,14],
[1620,0],[1638,0],[1643,1],[1651,1],[1659,3],[1729,3],[1734,6],[1758,6],[1765,7],[1773,7],[1778,8],[1789,8],[1797,9],[1800,9],
[1800,0],[1810,0],[1814,2],[1824,2],[1831,5],[1844,5],[1849,6],[1864,6],[1872,9],[1886,9],[1894,12],[1914,12],[1920,13],[1977,13],[1979,14],[1980,14],
[1980,0],[2010,0],[2020,2],[2026,2],[2031,4],[2046,4],[2049,7],[2075,7],[2080,9],[2130,9],[2135,10],[2160,10]
];
const truthWilder = [
[0,0],[20,0],[24,1],[33,1],[38,2],[88,2],[98,4],[154,4],[159,5],[180,5],
[180,0],[199,0],[203,1],[220,1],[230,7],[236,8],[241,8],[249,10],[275,10],[281,11],[289,12],[324,12],[329,13],[360,13],
[360,0],[390,0],[393,1],[401,1],[406,2],[430,2],[433,3],[444,3],[449,5],[468,5],[484,6],[515,6],[520,7],[525,8],[530,9],[540,9],
[540,0],[559,0],[564,1],[572,1],[585,4],[617,4],[620,5],[671,5],[685,9],[720,9],
[720,0],[734,0],[738,1],[749,1],[754,2],[816,2],[820,3],[846,3],[851,4],[900,4],
[900,0],[905,0],[922,7],[928,8],[938,11],[973,11],[984,13],[1019,13],[1024,14],[1056,14],[1059,15],[1066,15],[1070,16],[1080,16],
[1080,0],[1085,0],[1091,1],[1120,1],[1125,2],[1149,2],[1160,4],[1219,4],[1224,5],[1260,5],
[1260,0],[1280,0],[1283,1],[1299,1],[1304,2],[1326,2],[1339,9],[1358,9],[1363,10],[1440,10],
[1440,0],[1457,0],[1460,1],[1475,1],[1478,2],[1514,2],[1519,3],[1535,3],[1540,4],[1548,4],[1550,5],[1576,5],[1582,6],[1595,6],[1600,7],[1605,8],[1610,8],[1620,10],
[1620,0],[1625,0],[1630,1],[1636,2],[1643,3],[1651,3],[1654,4],[1659,4],[1664,5],[1680,5],[1693,10],[1700,10],[1708,11],[1721,11],[1726,13],[1758,13],[1765,14],[1800,14],
[1800,0],[1804,0],[1808,1],[1824,1],[1830,2],[1840,2],[1850,5],[1864,5],[1868,6],[1894,6],[1910,9],[1930,9],[1934,12],[1948,12],[1954,13],[1980,13],
[1980,0],[2002,0],[2005,1],[2026,1],[2029,5],[2075,5],[2080,6],[2091,6],[2104,9],[2117,9],[2119,11],[2124,11],[2130,13],[2160,13]
];

// ---------------- BUILD ----------------
const root = document.getElementById("root");
const bins = [bin0,bin1,bin2,bin3,bin4,bin5,bin6,bin7,bin8,bin9];
const errs = [];
bins.forEach((b,i)=>{ if (b.length !== times.length) errs.push(binLabels[i]+" len "+b.length+" vs "+times.length); });
[["predC",predChisora],["predW",predWilder],["cH",chisoraHigh],["cL",chisoraLow],["wH",wilderHigh],["wL",wilderLow]].forEach(([n,a])=>{ if (a.length!==times.length) errs.push(n+" len "+a.length); });

const xDomain = [-108, 2268];
const FONT = "DejaVu Sans, sans-serif";
const W = 2100, ML = 93, MR = 23;
const DOT = "3,4.5";

const topPlot = Plot.plot({
  width: W, height: 688, marginTop: 51, marginBottom: 17, marginLeft: ML, marginRight: MR,
  style: {fontFamily: FONT, background: "transparent", color: "#000", overflow: "visible"},
  x: {domain: xDomain}, y: {domain: [0, 1.05]},
  marks: [
    Plot.gridY(probTicks, {stroke: "#000", strokeOpacity: 0.1, strokeWidth: 1.2}),
    ...bins.map((b, i) => Plot.line(times.map((t, k) => ({t, p: b[k]})), {x: "t", y: "p", stroke: binColors[i], strokeWidth: 2, strokeOpacity: 0.85})),
    Plot.ruleX(roundStarts, {stroke: "#444", strokeOpacity: 0.75, strokeWidth: 1.2, strokeDasharray: "1.3,2.6"}),
    Plot.text(roundStarts, {x: d => d, y: 0.9975, text: (d, i) => roundLabels[i], textAnchor: "start", lineAnchor: "middle", dx: 2, fill: "#555", fillOpacity: 0.85, fontSize: 15}),
    Plot.frame({stroke: "#1a1a1a", strokeWidth: 1.6}),
    Plot.axisY(probTicks, {tickSize: 7, tickPadding: 7, fontSize: 14, tickFormat: d3.format(".2f"), label: null}),
    Plot.axisX(timeTicks, {tickSize: 7, tickFormat: () => "", label: null})
  ]
});
topPlot.classList.add("plotsvg");
topPlot.style.top = "0px";
root.appendChild(topPlot);

const band = times.map((t, k) => ({t, cH: chisoraHigh[k], cL: chisoraLow[k], wH: wilderHigh[k], wL: wilderLow[k], pc: predChisora[k], pw: predWilder[k]}));
const botPlot = Plot.plot({
  width: W, height: 512, marginTop: 18, marginBottom: 82, marginLeft: ML, marginRight: MR,
  style: {fontFamily: FONT, background: "transparent", color: "#000", overflow: "visible"},
  x: {domain: xDomain}, y: {domain: [-1.45, 30.4]},
  marks: [
    Plot.gridY(countTicks, {stroke: "#000", strokeOpacity: 0.1, strokeWidth: 1.2}),
    Plot.areaY(band, {x: "t", y1: "cL", y2: "cH", fill: "#ff0000", fillOpacity: 0.15}),
    Plot.lineY(band, {x: "t", y: "cH", stroke: "#ff0000", strokeOpacity: 0.13, strokeWidth: 1}),
    Plot.lineY(band, {x: "t", y: "cL", stroke: "#ff0000", strokeOpacity: 0.13, strokeWidth: 1}),
    Plot.areaY(band, {x: "t", y1: "wL", y2: "wH", fill: "#0000ff", fillOpacity: 0.15}),
    Plot.lineY(band, {x: "t", y: "wH", stroke: "#0000ff", strokeOpacity: 0.13, strokeWidth: 1}),
    Plot.lineY(band, {x: "t", y: "wL", stroke: "#0000ff", strokeOpacity: 0.13, strokeWidth: 1}),
    Plot.ruleX(roundStarts, {stroke: "#444", strokeOpacity: 0.75, strokeWidth: 1.2, strokeDasharray: "1.3,2.6"}),
    Plot.text(roundStarts, {x: d => d, y: 28.9, text: (d, i) => roundLabels[i], textAnchor: "start", lineAnchor: "middle", dx: 2, fill: "#555", fillOpacity: 0.85, fontSize: 15}),
    Plot.line(truthChisora, {x: d => d[0], y: d => d[1], stroke: "#ff0000", strokeOpacity: 0.75, strokeWidth: 2.8}),
    Plot.line(truthWilder, {x: d => d[0], y: d => d[1], stroke: "#0000ff", strokeOpacity: 0.75, strokeWidth: 2.8}),
    Plot.lineY(band, {x: "t", y: "pc", stroke: "#ff0000", strokeOpacity: 0.6, strokeWidth: 2.8, strokeDasharray: DOT}),
    Plot.lineY(band, {x: "t", y: "pw", stroke: "#0000ff", strokeOpacity: 0.6, strokeWidth: 2.8, strokeDasharray: DOT}),
    Plot.frame({stroke: "#1a1a1a", strokeWidth: 1.6}),
    Plot.axisY(countTicks, {tickSize: 7, tickPadding: 7, fontSize: 14, label: null}),
    Plot.axisX(timeTicks, {tickSize: 7, tickPadding: 7, fontSize: 14, tickFormat: d => String(d), label: null})
  ]
});
botPlot.classList.add("plotsvg");
botPlot.style.top = "688px";
root.appendChild(botPlot);

// ---------------- TEXT & LEGENDS ----------------
function label(txt, x, y, size, rot) {
  const d = document.createElement("div");
  d.className = "lbl";
  d.textContent = txt;
  d.style.left = x + "px"; d.style.top = y + "px"; d.style.fontSize = size + "px";
  d.style.lineHeight = "1";
  d.style.transform = "translate(-50%,-50%)" + (rot ? " rotate(" + rot + "deg)" : "");
  root.appendChild(d);
}
label(title, 1085, 31, 20);
label("Fight time (seconds)", 1085, 1165, 20);
label("Prob", 28, 361, 16, -90);
label("Count", 40, 912, 16, -90);

function handle(parent, x, y, len, color, width, opacity, dash) {
  const ns = "http://www.w3.org/2000/svg";
  const s = document.createElementNS(ns, "svg");
  s.setAttribute("width", len); s.setAttribute("height", 10);
  s.style.left = x + "px"; s.style.top = (y - 5) + "px";
  const l = document.createElementNS(ns, "line");
  l.setAttribute("x1", 0); l.setAttribute("x2", len); l.setAttribute("y1", 5); l.setAttribute("y2", 5);
  l.setAttribute("stroke", color); l.setAttribute("stroke-width", width); l.setAttribute("stroke-opacity", opacity);
  if (dash) l.setAttribute("stroke-dasharray", dash);
  s.appendChild(l); parent.appendChild(s);
}
// top legend (4 columns, column-major)
const lg1 = document.createElement("div");
lg1.className = "legend";
Object.assign(lg1.style, {left: "1605px", top: "57px", width: "466px", height: "62px"});
const colH = [4, 124, 245, 365], colT = [41, 161, 282, 401], rowY = [11, 30, 49.5];
const perCol = [3, 3, 2, 2];
let idx = 0;
perCol.forEach((n, c) => {
  for (let r = 0; r < n; r++, idx++) {
    handle(lg1, colH[c], rowY[r], 27, binColors[idx], 2, 0.85);
    const t = document.createElement("div");
    t.className = "txt"; t.textContent = binLabels[idx];
    Object.assign(t.style, {left: colT[c] + "px", top: rowY[r] + "px", fontSize: "11px"});
    lg1.appendChild(t);
  }
});
root.appendChild(lg1);

// bottom legend
const lg2 = document.createElement("div");
lg2.className = "legend";
Object.assign(lg2.style, {left: "100px", top: "712px", width: "298px", height: "93px"});
const entries = [
  {txt: "Truth " + fighters[0] + ": " + truthFinal[0], c: "#ff0000", o: 0.75, dash: null},
  {txt: "Truth " + fighters[1] + ": " + truthFinal[1], c: "#0000ff", o: 0.75, dash: null},
  {txt: "Predicted " + fighters[0] + ": " + predFinal[0], c: "#ff0000", o: 0.6, dash: DOT},
  {txt: "Predicted " + fighters[1] + ": " + predFinal[1], c: "#0000ff", o: 0.6, dash: DOT}
];
const rows2 = [12.7, 35.4, 56.7, 78.7];
entries.forEach((e, i) => {
  handle(lg2, 5, rows2[i], 32, e.c, 2.8, e.o, e.dash);
  const t = document.createElement("div");
  t.className = "txt"; t.textContent = e.txt;
  Object.assign(t.style, {left: "48px", top: rows2[i] + "px", fontSize: "14px"});
  lg2.appendChild(t);
});
root.appendChild(lg2);

if (errs.length) { const d = document.createElement("div"); d.style.cssText = "position:absolute;left:300px;top:300px;font-size:30px;color:red;background:#ff0"; d.textContent = errs.join(" | "); root.appendChild(d); }
</script>
</body></html>
